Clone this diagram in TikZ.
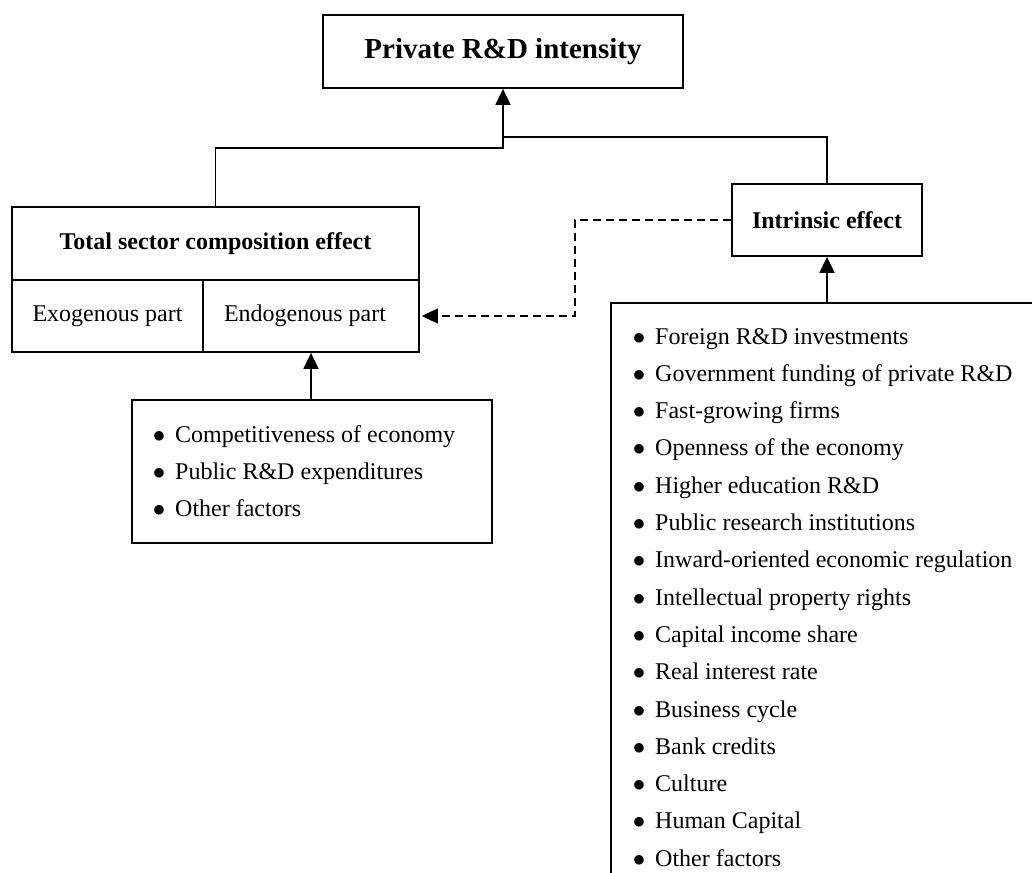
\documentclass[tikz,border=0pt]{standalone}
\usepackage{fontspec}
\setmainfont{Liberation Serif}
\usetikzlibrary{arrows.meta,calc}
\begin{document}
\begin{tikzpicture}[x=1pt,y=-1pt,
  ln/.style={line width=1.8pt},
  box/.style={draw, ln, inner sep=0pt, font=\fontsize{24}{28}\selectfont},
  bold24/.style={font=\bfseries\fontsize{24}{28}\selectfont},
  txt/.style={inner sep=0pt, font=\fontsize{24}{28}\selectfont, anchor=base west},
  bul/.style={inner sep=0pt, font=\fontsize{24}{28}\selectfont, anchor=base},
  arr/.style={ln, -{Triangle[length=16pt,width=15pt]}},
  dsh/.style={dash pattern=on 8pt off 5pt}
]
\path[use as bounding box] (0,0) rectangle (1032,872);

% top box
\node[box, minimum width=360pt, minimum height=73pt, font=\bfseries\fontsize{29}{34}\selectfont] (top) at (503,51.5) {Private R\&D intensity};

% total sector composition effect
\node[box, bold24, minimum width=407pt, minimum height=73pt] (tsc) at (215.5,243.5) {Total sector composition effect};
\node[box, minimum width=191pt, minimum height=72pt] (exo) at (107.5,316) {Exogenous part};
\node[box, minimum width=216pt, minimum height=72pt] (endo) at (311,316) {\hspace*{-12pt}Endogenous part};

% intrinsic effect
\node[box, bold24, minimum width=190pt, minimum height=72pt] (intr) at (827,220) {Intrinsic effect};

% small list box
\node[box, minimum width=360pt, minimum height=143pt] (small) at (312,471.5) {};
\foreach \t [count=\i] in {Competitiveness of economy, Public R\&D expenditures, Other factors}{
  \node[bul] (sb\i) at (159,{442+37*(\i-1)}) {$\bullet$};
  \node[txt] (s\i) at (175,{442+37*(\i-1)}) {\t};
}

% big list box (open at right and bottom)
\begin{scope}
\clip (0,0) rectangle (1032,872);
\draw[ln] (1045,303) -- (611,303) -- (611,885);
\end{scope}
\coordinate (lt) at (827,303);
\foreach \t [count=\i] in {Foreign R\&D investments, Government funding of private R\&D, Fast-growing firms, Openness of the economy, Higher education R\&D, Public research institutions, Inward-oriented economic regulation, Intellectual property rights, Capital income share, Real interest rate, Business cycle, Bank credits, Culture, Human Capital, Other factors}{
  \node[bul] (fb\i) at (639,{344+37.3*(\i-1)}) {$\bullet$};
  \node[txt] (f\i) at (655,{344+37.3*(\i-1)}) {\t};
}

% connectors
\coordinate (jl) at ($(top.south)+(0,59)$);
\coordinate (jr) at ($(top.south)+(0,48)$);
\draw[arr] (tsc.north) |- (jl) -- (top.south);
\draw[ln] (intr.north) |- (jr);
\draw[arr] (lt) -- (intr.south);
\draw[arr] (small.north -| endo.south) -- (endo.south);
\draw[arr, dsh] (intr.west) -- ++(-156,0) |- ([xshift=2pt]endo.east);
\end{tikzpicture}
\end{document}
